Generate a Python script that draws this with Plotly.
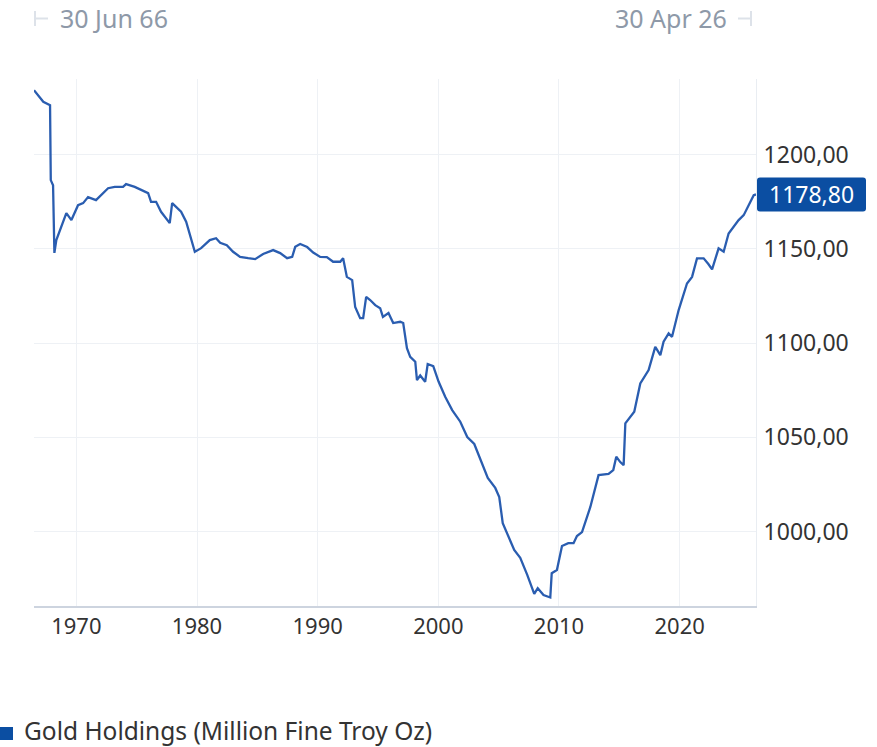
import plotly.graph_objects as go

# ---- data ----
years = [
    1966.49, 1967.26, 1967.82, 1967.88, 1968.07, 1968.18, 1968.34, 1968.76, 1969.17, 1969.59,
    1970.14, 1970.56, 1970.97, 1971.63, 1972.63, 1973.18, 1973.87, 1974.12, 1974.84, 1975.95,
    1976.19, 1976.61, 1977.02, 1977.74, 1977.94, 1978.68, 1979.10, 1979.82, 1980.34, 1981.06,
    1981.58, 1981.92, 1982.47, 1982.99, 1983.57, 1984.24, 1984.82, 1985.48, 1986.31, 1986.89,
    1987.47, 1987.89, 1988.14, 1988.55, 1989.13, 1989.63, 1990.21, 1990.76, 1991.28, 1991.87,
    1992.11, 1992.42, 1992.86, 1993.11, 1993.52, 1993.77, 1994.02, 1994.35, 1994.77, 1995.18,
    1995.41, 1995.87, 1996.26, 1996.84, 1997.09, 1997.40, 1997.67, 1998.09, 1998.23, 1998.50,
    1998.91, 1999.12, 1999.58, 2000.02, 2000.57, 2001.15, 2001.82, 2002.40, 2002.98, 2004.10,
    2004.72, 2005.05, 2005.34, 2006.29, 2006.79, 2007.37, 2007.95, 2008.24, 2008.72, 2009.28,
    2009.40, 2009.83, 2010.25, 2010.77, 2011.21, 2011.49, 2011.91, 2012.60, 2013.28, 2014.11,
    2014.50, 2014.75, 2015.08, 2015.36, 2015.50, 2016.24, 2016.74, 2017.43, 2017.74, 2017.98,
    2018.15, 2018.40, 2018.67, 2019.09, 2019.37, 2019.92, 2020.61, 2021.03, 2021.44, 2021.99,
    2022.38, 2022.69, 2023.23, 2023.65, 2024.06, 2024.89, 2025.31, 2026.14, 2026.33,
]
holdings = [
    1234.1, 1227.9, 1226.1, 1186.4, 1183.7, 1147.8, 1154.6, 1161.6, 1168.9, 1165.2,
    1173.1, 1174.2, 1177.4, 1175.8, 1182.1, 1182.8, 1182.8, 1184.3, 1182.8, 1179.5,
    1174.9, 1174.9, 1169.6, 1163.6, 1174.2, 1169.6, 1164.3, 1148.4, 1150.3, 1154.6,
    1155.6, 1153.2, 1151.9, 1148.4, 1145.7, 1145.0, 1144.5, 1147.2, 1149.3, 1147.7,
    1145.0, 1145.7, 1151.0, 1152.5, 1150.9, 1148.0, 1145.7, 1145.6, 1143.1, 1143.1,
    1145.0, 1135.1, 1133.4, 1119.1, 1113.2, 1113.2, 1124.5, 1122.8, 1120.1, 1118.5,
    1113.9, 1115.9, 1110.6, 1111.3, 1110.6, 1097.3, 1092.7, 1090.1, 1080.4, 1082.8,
    1079.5, 1088.9, 1087.8, 1079.6, 1071.5, 1064.5, 1058.3, 1050.2, 1046.5, 1028.5,
    1023.2, 1018.4, 1004.5, 990.3, 986.1, 977.1, 967.0, 970.0, 966.4, 965.1,
    978.0, 979.7, 992.4, 993.9, 993.9, 997.7, 999.8, 1013.1, 1030.0, 1030.6,
    1032.7, 1039.7, 1036.9, 1035.3, 1057.4, 1063.6, 1078.6, 1085.7, 1092.7, 1098.0,
    1096.3, 1093.6, 1100.7, 1105.1, 1103.3, 1117.5, 1131.6, 1135.1, 1144.9, 1144.9,
    1141.9, 1139.1, 1150.2, 1148.4, 1158.1, 1165.2, 1167.8, 1178.4, 1178.8,
]
x_ticks = [1970, 1980, 1990, 2000, 2010, 2020]
x_tick_labels = ["1970", "1980", "1990", "2000", "2010", "2020"]
y_ticks = [1000, 1050, 1100, 1150, 1200]
series_name = "Gold Holdings (Million Fine Troy Oz)"
start_label = "30 Jun 66"
end_label = "30 Apr 26"

LINE = "#2a5db0"
DARK = "#0b4ea2"
GRID = "#eef1f5"
TXT = "#333333"
HDR = "#8e99a8"
FONT = "Noto Sans"

fig = go.Figure()
fig.add_trace(go.Scatter(
    x=years, y=holdings, mode="lines", name=series_name,
    line=dict(color=LINE, width=2.3), showlegend=False,
))

last_val = holdings[-1]
last_txt = f"{last_val:.2f}".replace(".", ",")

fig.update_layout(
    width=877, height=747,
    margin=dict(l=34, r=121, t=79, b=141),
    paper_bgcolor="white", plot_bgcolor="white",
    separators=",.",
    font=dict(family=FONT, color=TXT, size=22),
    xaxis=dict(
        range=[years[0], years[-1]], tickvals=x_ticks, ticktext=x_tick_labels,
        showgrid=True, gridcolor=GRID, gridwidth=1,
        showline=True, linecolor="#cdd4df", linewidth=2,
        ticks="", zeroline=False, tickfont=dict(size=22, color=TXT),
        ticklabelstandoff=0,
    ),
    yaxis=dict(
        range=[960.6, 1240], side="right", tickvals=y_ticks, tickformat=".2f",
        showgrid=True, gridcolor=GRID, gridwidth=1,
        showline=True, linecolor="#e9edf2", linewidth=1,
        ticks="", zeroline=False, tickfont=dict(size=23, color=TXT),
        ticklabelstandoff=2,
    ),
    showlegend=False,
)

shapes = []
# last value box (rounded rect, pixel-sized, anchored at right edge / last value)
shapes.append(dict(
    type="path", xref="paper", yref="y", xsizemode="pixel", ysizemode="pixel",
    xanchor=1, yanchor=last_val,
    path="M 4,-17 L 107,-17 Q 110,-17 110,-14 L 110,14 Q 110,17 107,17 L 4,17 Q 1,17 1,14 L 1,-14 Q 1,-17 4,-17 Z",
    fillcolor=DARK, line=dict(width=0), layer="above",
))
# header range markers
def px_x(p):
    return (p - 34) / 722.0
def px_y(p):
    return (606 - p) / 527.0
hc = "#dde2e9"
shapes += [
    dict(type="line", xref="paper", yref="paper", x0=px_x(35), x1=px_x(35), y0=px_y(11), y1=px_y(26), line=dict(color=hc, width=2)),
    dict(type="line", xref="paper", yref="paper", x0=px_x(35), x1=px_x(48), y0=px_y(18.5), y1=px_y(18.5), line=dict(color=hc, width=2)),
    dict(type="line", xref="paper", yref="paper", x0=px_x(751), x1=px_x(751), y0=px_y(11), y1=px_y(26), line=dict(color=hc, width=2)),
    dict(type="line", xref="paper", yref="paper", x0=px_x(738), x1=px_x(751), y0=px_y(18.5), y1=px_y(18.5), line=dict(color=hc, width=2)),
]
# legend square
shapes.append(dict(
    type="rect", xref="paper", yref="paper",
    x0=px_x(0), x1=px_x(13), y0=px_y(740), y1=px_y(727),
    fillcolor=DARK, line=dict(width=0),
))
fig.update_layout(shapes=shapes)

annotations = [
    dict(x=1, xref="paper", y=last_val, yref="y", xanchor="center", yanchor="middle",
         xshift=55.5, text=last_txt, showarrow=False, font=dict(color="white", size=23)),
    dict(x=px_x(58), xref="paper", y=px_y(18), yref="paper", xanchor="left", yanchor="middle",
         text=start_label, showarrow=False, font=dict(color=HDR, size=25)),
    dict(x=px_x(729), xref="paper", y=px_y(18), yref="paper", xanchor="right", yanchor="middle",
         text=end_label, showarrow=False, font=dict(color=HDR, size=25)),
    dict(x=px_x(23), xref="paper", y=px_y(730), yref="paper", xanchor="left", yanchor="middle",
         text=series_name, showarrow=False, borderpad=0, font=dict(color=TXT, size=24.5)),
]
fig.update_layout(annotations=annotations)

fig.write_html(
    "out.html",
    config={"displayModeBar": False},
    post_script="document.body.style.margin='0';document.body.style.overflow='hidden';",
)
